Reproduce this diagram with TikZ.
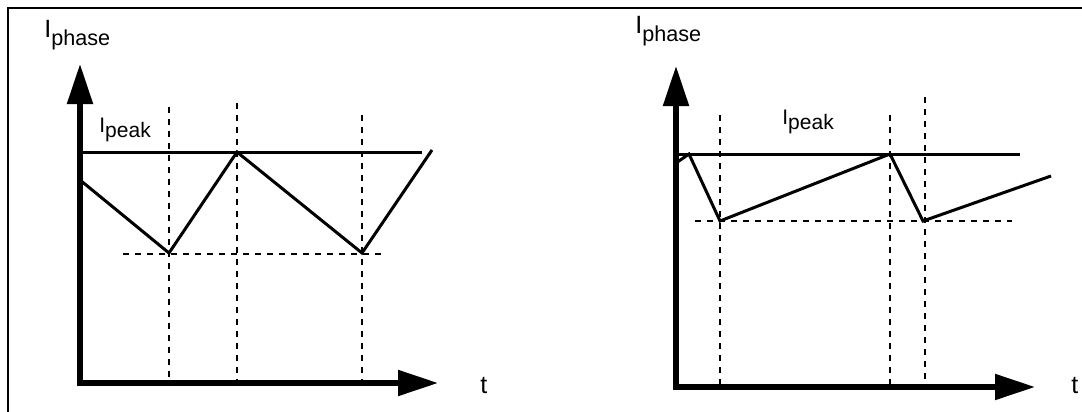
\documentclass[tikz,border=0pt]{standalone}
\usepackage{fontspec}
\setmainfont{Liberation Sans}
\usetikzlibrary{arrows.meta}
\newcommand{\sublbl}[4]{{\fontsize{#1}{#1}\selectfont I}\raisebox{-#4}{\fontsize{#3}{#3}\selectfont #2}}

\begin{document}
\begin{tikzpicture}[x=0.5pt,y=-0.5pt,>={Triangle[length=20pt,width=12.5pt]},
  axis/.style={line width=2.6pt,<->},
  wave/.style={line width=1.5pt,line join=miter},
  guide/.style={line width=1.1pt,dash pattern=on 3pt off 3pt},
  every node/.style={inner sep=0pt,anchor=base west}]
\useasboundingbox (0,0) rectangle (1082,412);
\draw[line width=1.2pt] (8,412) -- (8,8) -- (1082,8);
% left panel
\coordinate (ly) at (80,64);
\coordinate (lo) at (80,383);
\coordinate (lx) at (438,383);
\node (lphase) at (44,37) {\sublbl{12.5pt}{phase}{10.8pt}{4pt}};
\node (lpeak) at (99,132) {\sublbl{10.5pt}{peak}{10.5pt}{2.5pt}};
\node (lt) at (480,393) {\fontsize{12.5pt}{12.5pt}\selectfont t};
\draw[guide] (169,107) -- (169,383);
\draw[guide] (237,103) -- (237,383);
\draw[guide] (362,115) -- (362,383);
\draw[guide] (123,254) -- (385,254);
\draw[wave] (80,152) -- (422,152);
\draw[wave] (80,180) -- (169,253) -- (237,152) -- (362,253) -- (432,150);
\draw[axis] (ly) -- (lo) -- (lx);
% right panel
\coordinate (ry) at (676,66);
\coordinate (ro) at (676,387);
\coordinate (rx) at (1035,387);
\node (rphase) at (635,33) {\sublbl{12.5pt}{phase}{10.8pt}{4pt}};
\node (rpeak) at (782,124) {\sublbl{10.5pt}{peak}{10.5pt}{2.5pt}};
\node (rt) at (1071,393) {\fontsize{12.5pt}{12.5pt}\selectfont t};
\draw[guide] (720,115) -- (720,387);
\draw[guide] (890,115) -- (890,387);
\draw[guide] (925,97) -- (925,387);
\draw[guide] (695,221) -- (1012,221);
\draw[wave] (676,154) -- (1020,154);
\draw[wave] (676,163) -- (689,154) -- (720,221) -- (890,154) -- (923,221) -- (1051,176);
\draw[axis] (ry) -- (ro) -- (rx);
\end{tikzpicture}
\end{document}
